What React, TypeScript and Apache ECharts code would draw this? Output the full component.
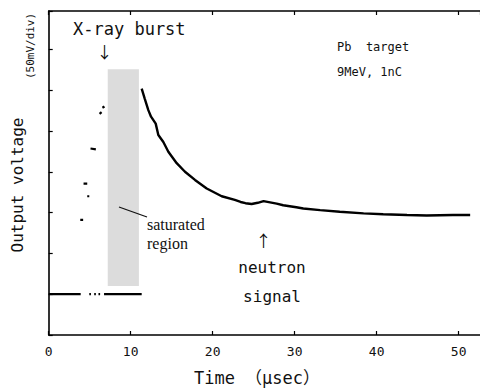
import React, { useEffect, useRef } from "react";
import * as echarts from "echarts";

// Decay curve after the saturated region (time in µs, voltage in divisions)
const curveX = [11.34, 11.7, 12.15, 12.48, 13.05, 13.37, 13.98, 14.59, 15.61, 16.62, 17.84, 19.27, 21.1, 22.7, 23.4, 24.0, 24.75, 25.5, 26.2, 27.0, 27.8, 28.6, 30.2, 31.05, 33.1, 35.5, 38.4, 40.8, 43.7, 46.1, 49.3, 51.4];
const curveY = [6.04, 5.8, 5.51, 5.35, 5.18, 4.9, 4.73, 4.49, 4.21, 4.0, 3.8, 3.59, 3.4, 3.31, 3.26, 3.23, 3.21, 3.24, 3.28, 3.25, 3.22, 3.18, 3.13, 3.1, 3.06, 3.02, 2.98, 2.96, 2.94, 2.93, 2.94, 2.94];

// Rising-edge dashes before the burst: [xStart, xEnd, yStart, yEnd]
const riseDashes = [
  [3.85, 4.2, 2.82, 2.82],
  [4.25, 4.7, 3.71, 3.71],
  [4.7, 4.95, 3.4, 3.4],
  [5.1, 5.75, 4.57, 4.55],
  [6.2, 6.45, 5.42, 5.46],
  [6.55, 6.8, 5.57, 5.6],
];

// Baseline segments: [xStart, xEnd], at baseline level
const baselineLevel = 1.0;
const baselineSegments = [
  [0, 3.9],
  [4.95, 5.15],
  [5.55, 5.75],
  [6.07, 6.27],
  [6.75, 11.34],
];

// Saturated region (gray box)
const saturatedX = [7.2, 11.0];
const saturatedY = [1.2, 6.51];

const xTicks = [0, 10, 20, 30, 40, 50];
const xMax = 52.6;
const yMax = 7.94;

function segmentsToData(segs: number[][]) {
  const out: any[] = [];
  segs.forEach((s, i) => {
    if (i > 0) out.push(["-", "-"]);
    out.push([s[0], s[2]]);
    out.push([s[1], s[3]]);
  });
  return out;
}

export default function App() {
  const ref = useRef<HTMLDivElement>(null);
  useEffect(() => {
    const chart = echarts.init(ref.current!, null, { renderer: "svg" });
    const mono = "'DejaVu Sans Mono', 'Noto Sans CJK JP', monospace";
    const cjk = "'Noto Sans CJK JP', sans-serif";
    const baseData = segmentsToData(baselineSegments.map((s) => [s[0], s[1], baselineLevel, baselineLevel]));
    const riseData = segmentsToData(riseDashes);
    const curveData = curveX.map((x, i) => [x, curveY[i]]);
    const axisLineStyle = { color: "#000", width: 1.6 };
    chart.setOption({
      animation: false,
      backgroundColor: "#fff",
      grid: { left: 48.7, right: 0, top: 11, bottom: 54 },
      xAxis: [
        {
          type: "value",
          min: 0,
          max: xMax,
          interval: 10,
          position: "bottom",
          axisLine: { lineStyle: axisLineStyle },
          axisTick: { inside: true, length: 4, lineStyle: { color: "#000", width: 1.2 } },
          axisLabel: {
            showMaxLabel: false,
            color: "#111",
            fontFamily: mono,
            fontSize: 13,
            margin: 10,
            formatter: (v: number) => (xTicks.includes(v) ? String(v) : ""),
          },
          splitLine: { show: false },
        },
        {
          type: "value",
          min: 0,
          max: xMax,
          interval: 10,
          position: "top",
          axisLine: { lineStyle: axisLineStyle },
          axisTick: { inside: true, length: 4, lineStyle: { color: "#000", width: 1.2 } },
          axisLabel: { show: false },
          splitLine: { show: false },
        },
      ],
      yAxis: {
        type: "value",
        min: 0,
        max: yMax,
        interval: 1,
        axisLine: { show: true, lineStyle: axisLineStyle },
        axisTick: { show: true, inside: true, length: 4, lineStyle: { color: "#000", width: 1.2 } },
        axisLabel: { show: false },
        splitLine: { show: false },
      },
      series: [
        {
          type: "line",
          data: baseData,
          showSymbol: false,
          connectNulls: false,
          lineStyle: { color: "#000", width: 2.2 },
          markArea: {
            silent: true,
            itemStyle: { color: "#dcdcdc" },
            data: [[{ xAxis: saturatedX[0], yAxis: saturatedY[0] }, { xAxis: saturatedX[1], yAxis: saturatedY[1] }]],
          },
          z: 2,
        },
        {
          type: "line",
          data: riseData,
          showSymbol: false,
          connectNulls: false,
          lineStyle: { color: "#000", width: 2.2 },
          z: 3,
        },
        {
          type: "line",
          data: curveData,
          showSymbol: false,
          lineStyle: { color: "#000", width: 2.4 },
          z: 3,
        },
      ],
      graphic: [
        { type: "text", z: 100, x: 73, y: 29, style: { text: "X-ray burst", font: `17px ${mono}`, fill: "#111", verticalAlign: "middle" } },
        { type: "text", z: 100, x: 104.5, y: 51, style: { text: "↓", font: `16px ${cjk}`, fill: "#111", align: "center", verticalAlign: "middle" } },
        { type: "text", z: 100, x: 30, y: 46, rotation: Math.PI / 2, style: { text: "(50mV/div)", font: `11px ${mono}`, fill: "#111", align: "center", verticalAlign: "middle" } },
        { type: "text", z: 100, x: 17, y: 185, rotation: Math.PI / 2, style: { text: "Output voltage", font: `16px ${mono}`, fill: "#111", align: "center", verticalAlign: "middle" } },
        { type: "text", z: 100, x: 337, y: 47, style: { text: "Pb  target", font: `12px ${mono}`, fill: "#111", verticalAlign: "middle" } },
        { type: "text", z: 100, x: 337, y: 72, style: { text: "9MeV, 1nC", font: `12px ${mono}`, fill: "#111", verticalAlign: "middle" } },
        { type: "line", z: 100, shape: { x1: 119, y1: 207, x2: 147, y2: 217 }, style: { stroke: "#111", lineWidth: 1.3 } },
        { type: "text", z: 100, x: 147, y: 224, style: { text: "saturated", font: "16px 'Liberation Serif', serif", fill: "#111", verticalAlign: "middle" } },
        { type: "text", z: 100, x: 147, y: 243, style: { text: "region", font: "16px 'Liberation Serif', serif", fill: "#111", verticalAlign: "middle" } },
        { type: "text", z: 100, x: 263.5, y: 240, style: { text: "↑", font: `16px ${cjk}`, fill: "#111", align: "center", verticalAlign: "middle" } },
        { type: "text", z: 100, x: 272, y: 267, style: { text: "neutron", font: `16px ${mono}`, fill: "#111", align: "center", verticalAlign: "middle" } },
        { type: "text", z: 100, x: 272, y: 296, style: { text: "signal", font: `16px ${mono}`, fill: "#111", align: "center", verticalAlign: "middle" } },
        { type: "text", z: 100, x: 257, y: 378, style: { text: "Time （μsec）", font: `17px ${mono}`, fill: "#111", align: "center", verticalAlign: "middle" } },
      ],
    });
    return () => chart.dispose();
  }, []);
  return <div ref={ref} style={{ position: "fixed", left: 0, top: 0, width: 480, height: 389 }} />;
}
